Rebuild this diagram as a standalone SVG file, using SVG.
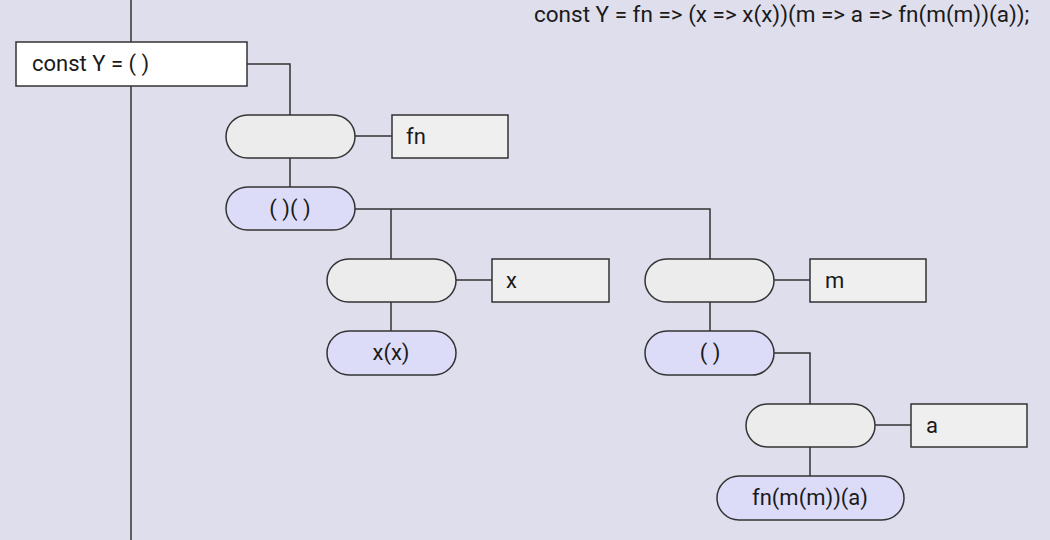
<svg xmlns="http://www.w3.org/2000/svg" width="1050" height="540" viewBox="0 0 1050 540">
<style>
text{font-family:Roboto,"Liberation Sans",sans-serif;font-size:22px;fill:#1a1a1a}
.c{text-anchor:middle}
.t{font-size:22.5px}
.pg{fill:#ececec;stroke:#333;stroke-width:1.5}
.pb{fill:#dcdcf8;stroke:#333;stroke-width:1.5}
.bx{fill:#efefef;stroke:#333;stroke-width:1.5}
.ln{fill:none;stroke:#333;stroke-width:1.5}
</style>
<rect x="0" y="0" width="1050" height="540" fill="#dedeed"/>
<text class="t" x="534" y="22">const Y = fn =&gt; (x =&gt; x(x))(m =&gt; a =&gt; fn(m(m))(a));</text>
<g id="connectors">
<path class="ln" d="M131 0V540"/>
<path class="ln" d="M247 64H290V115"/>
<path class="ln" d="M355 136H392"/>
<path class="ln" d="M290 158V187"/>
<path class="ln" d="M355 209H710V259M391 209V259"/>
<path class="ln" d="M456 280H492"/>
<path class="ln" d="M391 302V331"/>
<path class="ln" d="M774 280H810"/>
<path class="ln" d="M710 302V331"/>
<path class="ln" d="M774 353H810V404"/>
<path class="ln" d="M875 425H911"/>
<path class="ln" d="M810 447V476"/>
</g>
<g id="root"><rect x="16" y="42" width="231" height="44" fill="#fff" stroke="#333" stroke-width="1.5"/><text x="32" y="71">const Y = ( )</text></g>
<g id="lam1"><rect class="pg" x="226" y="115" width="129" height="43" rx="21.5"/></g>
<g id="p-fn"><rect class="bx" x="392" y="115" width="116" height="43"/><text x="406" y="144">fn</text></g>
<g id="app1"><rect class="pb" x="226" y="187" width="129" height="43" rx="21.5"/><text class="c" x="290" y="216">( )( )</text></g>
<g id="lam2"><rect class="pg" x="327" y="259" width="129" height="43" rx="21.5"/></g>
<g id="p-x"><rect class="bx" x="492" y="259" width="117" height="43"/><text x="506" y="288">x</text></g>
<g id="app2"><rect class="pb" x="327" y="331" width="129" height="44" rx="22"/><text class="c" x="391" y="360">x(x)</text></g>
<g id="lam3"><rect class="pg" x="645" y="259" width="129" height="43" rx="21.5"/></g>
<g id="p-m"><rect class="bx" x="810" y="259" width="116" height="43"/><text x="825" y="288">m</text></g>
<g id="app3"><rect class="pb" x="645" y="331" width="129" height="44" rx="22"/><text class="c" x="710" y="360">( )</text></g>
<g id="lam4"><rect class="pg" x="746" y="404" width="129" height="43" rx="21.5"/></g>
<g id="p-a"><rect class="bx" x="911" y="404" width="116" height="43"/><text x="926" y="433">a</text></g>
<g id="app4"><rect class="pb" x="717" y="476" width="187" height="44" rx="22"/><text class="c" x="810" y="505">fn(m(m))(a)</text></g>
</svg>
